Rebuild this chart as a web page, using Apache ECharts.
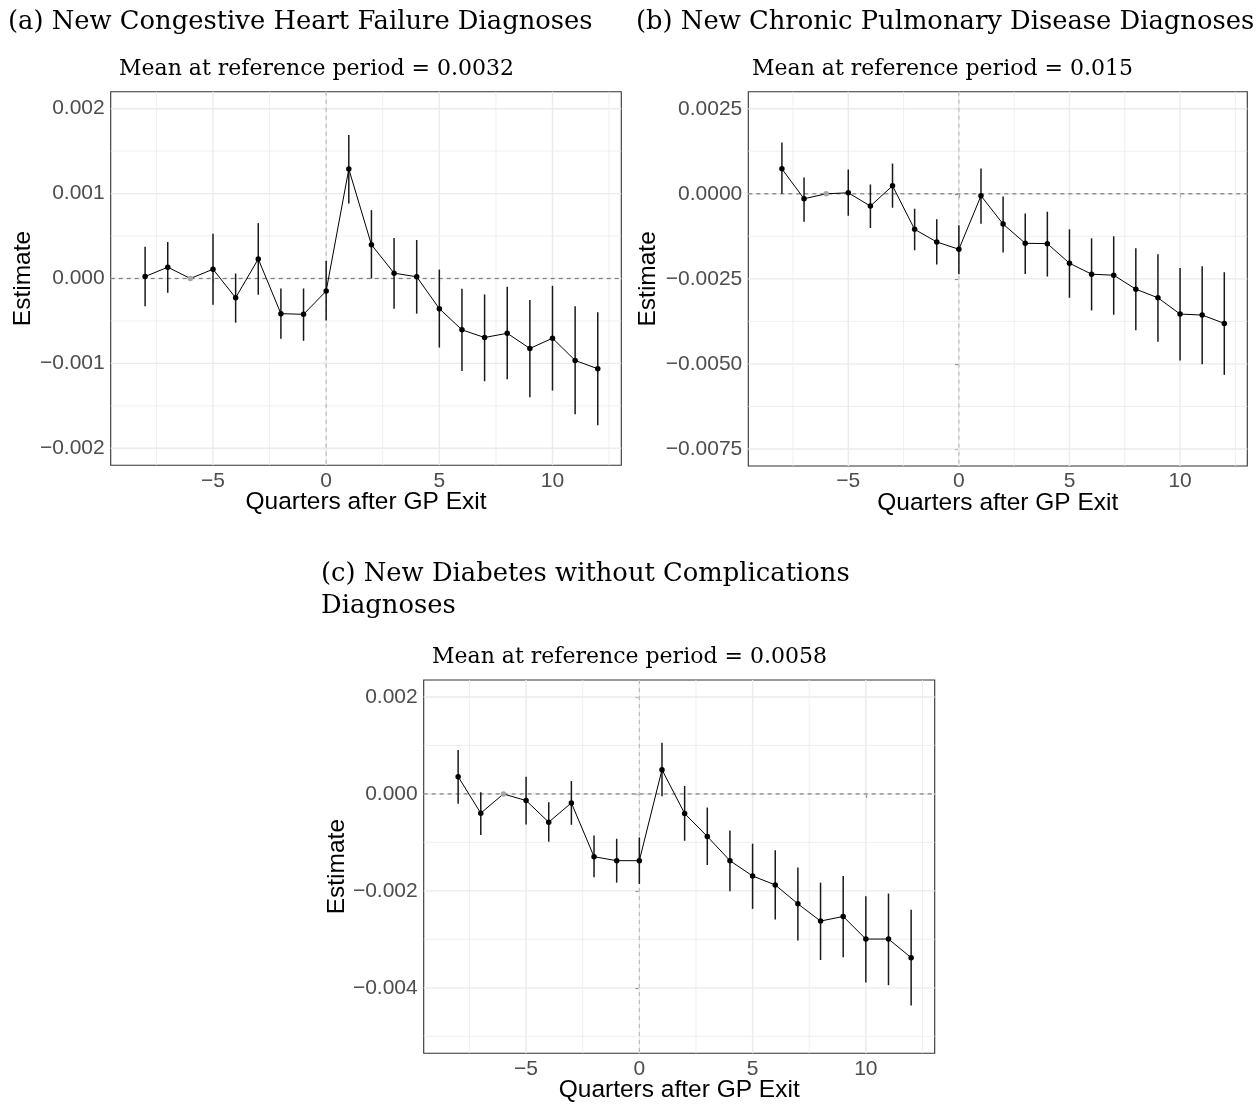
<!DOCTYPE html>
<html>
<head>
<meta charset="utf-8">
<script src="https://cdn.jsdelivr.net/npm/echarts@6/dist/echarts.min.js"></script>
<style>
  html, body { margin: 0; padding: 0; background: #ffffff; }
  #chart { width: 1260px; height: 1104px; }
</style>
</head>
<body>
<div id="chart"></div>
<script>
// ---------------- DATA ----------------
const quarters = [-8, -7, -6, -5, -4, -3, -2, -1, 0, 1, 2, 3, 4, 5, 6, 7, 8, 9, 10, 11, 12];
const refQuarter = -6;

const panelTitles = [
  '(a) New Congestive Heart Failure Diagnoses',
  '(b) New Chronic Pulmonary Disease Diagnoses',
  '(c) New Diabetes without Complications\nDiagnoses'
];
const panelSubtitles = [
  'Mean at reference period = 0.0032',
  'Mean at reference period = 0.015',
  'Mean at reference period = 0.0058'
];
const xAxisTitle = 'Quarters after GP Exit';
const yAxisTitle = 'Estimate';

const xTicks = [-5, 0, 5, 10];
const xTickLabels = ['\u22125', '0', '5', '10'];

// (a) Congestive heart failure
const chfEst = [0.000023, 0.000133, 0, 0.000109, -0.000227, 0.00023, -0.000414, -0.000422, -0.000148, 0.001289, 0.000398, 0.000063, 0.00002, -0.000355, -0.000605, -0.000695, -0.000645, -0.000824, -0.000703, -0.000965, -0.001063];
const chfLo = [-0.000328, -0.000168, null, -0.000309, -0.00052, -0.000191, -0.000711, -0.000734, -0.000496, 0.000883, 0.0, -0.000355, -0.000414, -0.000813, -0.00109, -0.00121, -0.001188, -0.001398, -0.00132, -0.001598, -0.001727];
const chfHi = [0.000375, 0.00043, null, 0.000527, 0.000059, 0.000652, -0.000117, -0.000117, 0.000207, 0.001691, 0.000805, 0.000477, 0.000453, 0.000105, -0.000121, -0.000188, -0.000098, -0.000254, -0.000086, -0.000328, -0.000398];
const chfYTicks = [-0.002, -0.001, 0, 0.001, 0.002];
const chfYLabels = ['\u22120.002', '\u22120.001', '0.000', '0.001', '0.002'];

// (b) Chronic pulmonary disease
const copdEst = [0.000732, -0.000146, 0, 0.000029, -0.000361, 0.000234, -0.001045, -0.001416, -0.001631, -0.000059, -0.000889, -0.001455, -0.001465, -0.002041, -0.002363, -0.002393, -0.002803, -0.003057, -0.003535, -0.003564, -0.003809];
const copdLo = [0.0, -0.00082, null, -0.000645, -0.001006, -0.00041, -0.00166, -0.00208, -0.002363, -0.000879, -0.001729, -0.002354, -0.002432, -0.003057, -0.003428, -0.003555, -0.004014, -0.004346, -0.004902, -0.00501, -0.005322];
const copdHi = [0.001504, 0.000479, null, 0.000713, 0.000273, 0.000889, -0.000439, -0.000752, -0.000928, 0.000742, -0.000078, -0.000576, -0.000527, -0.001045, -0.001309, -0.00125, -0.001602, -0.001777, -0.002178, -0.002129, -0.002305];
const copdYTicks = [-0.0075, -0.005, -0.0025, 0, 0.0025];
const copdYLabels = ['\u22120.0075', '\u22120.0050', '\u22120.0025', '0.0000', '0.0025'];

// (c) Diabetes without complications
const diabEst = [0.000356, -0.000397, 0, -0.000137, -0.000582, -0.000185, -0.001295, -0.001377, -0.001377, 0.0005, -0.000404, -0.000877, -0.001377, -0.001692, -0.001877, -0.002267, -0.002623, -0.002527, -0.002993, -0.002993, -0.003377];
const diabLo = [-0.000205, -0.000849, null, -0.00063, -0.000986, -0.000637, -0.001719, -0.001829, -0.001856, -0.000048, -0.000966, -0.001466, -0.002007, -0.00237, -0.002589, -0.003021, -0.003425, -0.00337, -0.00389, -0.003945, -0.004363];
const diabHi = [0.000904, 0.000034, null, 0.000356, -0.000171, 0.000267, -0.000856, -0.000925, -0.000897, 0.001055, 0.000164, -0.000281, -0.000753, -0.001027, -0.001164, -0.00152, -0.001829, -0.001692, -0.00211, -0.002055, -0.00239];
const diabYTicks = [-0.004, -0.002, 0, 0.002];
const diabYLabels = ['\u22120.004', '\u22120.002', '0.000', '0.002'];

// ---------------- LAYOUT / STYLE ----------------
const X_RANGE = [-9.52, 13.04];
const panels = [
  { est: chfEst, lo: chfLo, hi: chfHi, yTicks: chfYTicks, yLabels: chfYLabels, yRange: [-0.0022, 0.0022],
    grid: { left: 110.7, top: 91.7, width: 510.6, height: 373.6 },
    titlePos: [8, 22], subPos: [119, 69], yTitleX: 23 },
  { est: copdEst, lo: copdLo, hi: copdHi, yTicks: copdYTicks, yLabels: copdYLabels, yRange: [-0.008, 0.003],
    grid: { left: 748.3, top: 91.7, width: 499, height: 374.3 },
    titlePos: [636, 22], subPos: [752, 69], yTitleX: 648 },
  { est: diabEst, lo: diabLo, hi: diabHi, yTicks: diabYTicks, yLabels: diabYLabels, yRange: [-0.00535, 0.00235],
    grid: { left: 423.7, top: 680, width: 511, height: 373.3 },
    titlePos: [321, 574], subPos: [432, 657], yTitleX: 337 }
];

const SERIF = '"DejaVu Serif", "Liberation Serif", serif';
const SANS = '"Liberation Sans", Arial, sans-serif';

function labelFor(ticks, labels, v) {
  let best = -1, bd = Infinity;
  ticks.forEach((t, i) => { const d = Math.abs(t - v); if (d < bd) { bd = d; best = i; } });
  return best >= 0 && bd < Math.abs(ticks[1] - ticks[0]) * 1e-3 ? labels[best] : '';
}
function minorValues(ticks, range) {
  const step = ticks[1] - ticks[0];
  const out = [];
  for (let i = -1; i < ticks.length; i++) {
    const v = ticks[0] + (i + 0.5) * step;
    if (v > range[0] && v < range[1]) out.push(v);
  }
  return out;
}

// renderItem for full-span reference lines: row = [x, y, orient(0=vertical,1=horizontal), styleIndex]
const LINE_STYLES = [
  { stroke: '#ebebeb', lineWidth: 1.4 },                  // major grid
  { stroke: '#ebebeb', lineWidth: 0.8 },                  // minor grid
  { stroke: '#b3b3b3', lineWidth: 1, lineDash: [4, 4] },  // vertical zero
  { stroke: '#7f7f7f', lineWidth: 1.2, lineDash: [4, 4] } // horizontal zero
];
function spanLine(params, api) {
  const cs = params.coordSys;
  const pt = api.coord([api.value(0), api.value(1)]);
  const orient = api.value(2);
  const st = LINE_STYLES[api.value(3)];
  const shape = orient === 0
    ? { x1: pt[0], y1: cs.y, x2: pt[0], y2: cs.y + cs.height }
    : { x1: cs.x, y1: pt[1], x2: cs.x + cs.width, y2: pt[1] };
  return { type: 'line', shape: shape, style: Object.assign({ fill: null }, st) };
}

const option = {
  animation: false,
  backgroundColor: '#ffffff',
  grid: [], xAxis: [], yAxis: [], series: [], graphic: []
};

panels.forEach((p, gi) => {
  option.grid.push(Object.assign({ show: true, borderColor: '#333333', borderWidth: 1.1, backgroundColor: '#ffffff', containLabel: false }, p.grid));
  option.xAxis.push({
    gridIndex: gi, type: 'value', min: X_RANGE[0], max: X_RANGE[1],
    axisLine: { show: false }, splitLine: { show: false },
    axisTick: { show: true, customValues: xTicks, length: 4, lineStyle: { color: '#333333', width: 1.1 } },
    axisLabel: { customValues: xTicks, formatter: v => labelFor(xTicks, xTickLabels, v),
      color: '#4d4d4d', fontSize: 21, fontFamily: SANS, margin: 5 }
  });
  option.yAxis.push({
    gridIndex: gi, type: 'value', min: p.yRange[0], max: p.yRange[1],
    axisLine: { show: false }, splitLine: { show: false },
    axisTick: { show: true, customValues: p.yTicks, length: 4, lineStyle: { color: '#333333', width: 1.1 } },
    axisLabel: { customValues: p.yTicks, formatter: v => labelFor(p.yTicks, p.yLabels, v),
      color: '#4d4d4d', fontSize: 21, fontFamily: SANS, margin: 6 }
  });

  const xMinor = minorValues(xTicks, X_RANGE);
  const yMinor = minorValues(p.yTicks, p.yRange);
  const gridRows = [];
  xMinor.forEach(v => gridRows.push([v, 0, 0, 1]));
  yMinor.forEach(v => gridRows.push([0, v, 1, 1]));
  xTicks.forEach(v => gridRows.push([v, 0, 0, 0]));
  p.yTicks.forEach(v => gridRows.push([0, v, 1, 0]));

  // gridlines
  option.series.push({
    type: 'custom', xAxisIndex: gi, yAxisIndex: gi, z: 1, silent: true, clip: false,
    data: gridRows, encode: { x: 0, y: 1 }, renderItem: spanLine
  });
  // reference dashed lines at zero
  option.series.push({
    type: 'custom', xAxisIndex: gi, yAxisIndex: gi, z: 2, silent: true, clip: false,
    data: [[0, 0, 0, 2], [0, 0, 1, 3]], encode: { x: 0, y: 1 }, renderItem: spanLine
  });
  // error bars
  const ebData = [];
  quarters.forEach((q, i) => { if (p.lo[i] !== null && p.hi[i] !== null) ebData.push([q, p.lo[i], p.hi[i]]); });
  option.series.push({
    type: 'custom', xAxisIndex: gi, yAxisIndex: gi, z: 3, silent: true,
    data: ebData, encode: { x: 0, y: [1, 2] },
    renderItem: (params, api) => {
      const a = api.coord([api.value(0), api.value(1)]);
      const b = api.coord([api.value(0), api.value(2)]);
      return { type: 'line', shape: { x1: a[0], y1: a[1], x2: b[0], y2: b[1] },
        style: { stroke: '#1a1a1a', lineWidth: 1.5 } };
    }
  });
  // estimates line + points
  option.series.push({
    type: 'line', xAxisIndex: gi, yAxisIndex: gi, z: 4, silent: true,
    symbol: 'circle', symbolSize: 5.5, showSymbol: true,
    lineStyle: { color: '#000000', width: 1 },
    itemStyle: { color: '#000000' },
    data: quarters.map((q, i) => q === refQuarter
      ? { value: [q, p.est[i]], itemStyle: { color: '#a6a6a6' } }
      : { value: [q, p.est[i]] })
  });

  // panel title
  option.graphic.push({
    type: 'text', x: p.titlePos[0], y: gi === 2 ? p.titlePos[1] - 16 : p.titlePos[1],
    style: { text: panelTitles[gi], fontFamily: SERIF, fontSize: 25.8, fill: '#000', align: 'left',
      verticalAlign: gi === 2 ? 'top' : 'middle', lineHeight: 32 }
  });
  // plot subtitle
  option.graphic.push({
    type: 'text', x: p.subPos[0], y: p.subPos[1],
    style: { text: panelSubtitles[gi], fontFamily: SERIF, fontSize: 22, fill: '#000', align: 'left', verticalAlign: 'middle' }
  });
  // axis titles
  option.graphic.push({
    type: 'text', x: p.grid.left + p.grid.width / 2, y: p.grid.top + p.grid.height + 37,
    style: { text: xAxisTitle, fontFamily: SANS, fontSize: 24.5, fill: '#000', align: 'center', verticalAlign: 'middle' }
  });
  option.graphic.push({
    type: 'text', x: p.yTitleX, y: p.grid.top + p.grid.height / 2, rotation: Math.PI / 2,
    style: { text: yAxisTitle, fontFamily: SANS, fontSize: 24.5, fill: '#000', align: 'center', verticalAlign: 'middle' }
  });
});

const chart = echarts.init(document.getElementById('chart'), null, { renderer: 'canvas' });
chart.setOption(option);
</script>
</body>
</html>
